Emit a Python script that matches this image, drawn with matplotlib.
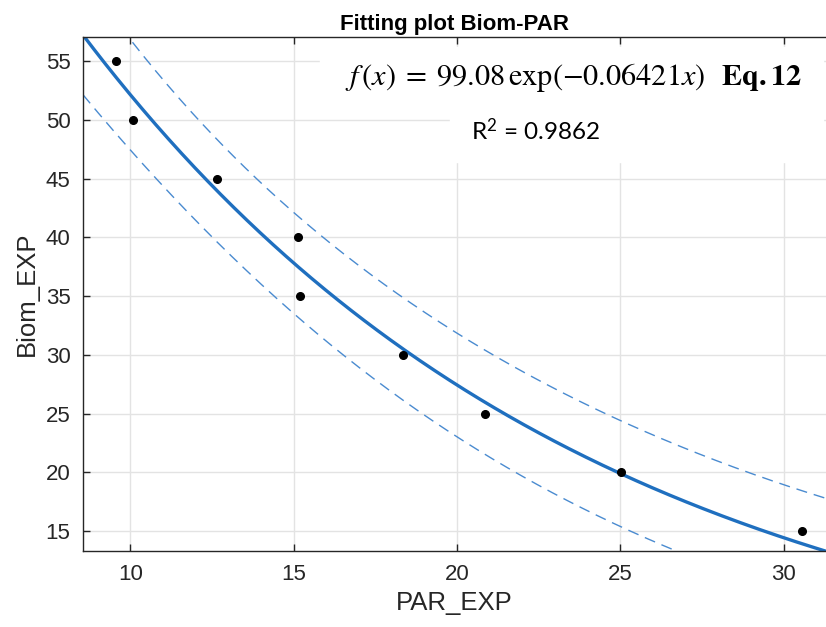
import matplotlib
matplotlib.use("Agg")
import matplotlib.pyplot as plt
import numpy as np

# data
par_exp = np.array([9.57, 10.09, 12.64, 15.12, 15.18, 18.34, 20.86, 25.03, 30.58])
biom_exp = np.array([55, 50, 45, 40, 35, 30, 25, 20, 15])

# fitted model shown on the chart
a_fit = 99.08
b_fit = 0.06421
r2_text = r"$\mathregular{R^2}$ = 0.9862"
eq_text = r"$f\,(x)\;=\;99.08\,\exp(-0.06421x)$  $\mathbf{Eq.12}$"

x_ticks = [10, 15, 20, 25, 30]
y_ticks = [15, 20, 25, 30, 35, 40, 45, 50, 55]

plt.rcParams['font.family'] = ['Liberation Sans', 'DejaVu Sans']
plt.rcParams['mathtext.fontset'] = 'stix'

xmin, xmax = 8.55, 31.3
ymin, ymax = 13.3, 57.05

xx = np.linspace(xmin, xmax, 400)
fit = a_fit * np.exp(-b_fit * xx)

# 95% prediction bounds (like MATLAB's predobs)
pred = a_fit * np.exp(-b_fit * par_exp)
n = len(par_exp)
s2 = np.sum((biom_exp - pred) ** 2) / (n - 2)
J = np.column_stack([np.exp(-b_fit * par_exp), -a_fit * par_exp * np.exp(-b_fit * par_exp)])
cov = s2 * np.linalg.inv(J.T @ J)
g = np.column_stack([np.exp(-b_fit * xx), -a_fit * xx * np.exp(-b_fit * xx)])
var_f = np.einsum('ij,jk,ik->i', g, cov, g)
t = 2.3646
half = t * np.sqrt(s2 + var_f)

fig = plt.figure(figsize=(8.26, 6.27), dpi=100)
ax = fig.add_axes([83 / 826, 1 - 551 / 627, 1 - 83 / 826, (551 - 37) / 627])

ax.grid(True, color='#e3e3e3', linewidth=1.0)
ax.set_axisbelow(True)

ax.plot(xx, fit + half, '--', color='#4a8bd0', linewidth=1.0, dashes=(8, 5))
ax.plot(xx, fit - half, '--', color='#4a8bd0', linewidth=1.0, dashes=(8, 5))
ax.plot(xx, fit, color='#1f6fbf', linewidth=2.4)
ax.plot(par_exp, biom_exp, 'o', color='black', markersize=5.5)

ax.set_xlim(xmin, xmax)
ax.set_ylim(ymin, ymax)
ax.set_xticks(x_ticks)
ax.set_yticks(y_ticks)
ax.tick_params(direction='in', length=5, width=1, colors='#262626',
               labelsize=16, top=True, pad=9)
ax.tick_params(axis='y', pad=9)
for side in ['left', 'bottom', 'top']:
    ax.spines[side].set_color('#262626')
    ax.spines[side].set_linewidth(1.0)
ax.spines['right'].set_visible(False)

ax.set_xlabel('PAR_EXP', fontsize=18.5, color='#262626', labelpad=5)
ax.set_ylabel('Biom_EXP', fontsize=18.5, color='#262626', labelpad=5)
ax.set_title('Fitting plot Biom-PAR', fontsize=16, fontweight='bold', pad=5)

# white boxes behind the equation text
fig.patches.append(plt.Rectangle((320 / 826, 1 - 108 / 627), 503 / 826, 61 / 627,
                                 transform=fig.transFigure, color='white', zorder=5))
fig.patches.append(plt.Rectangle((450 / 826, 1 - 162 / 627), 373 / 826, 60 / 627,
                                 transform=fig.transFigure, color='white', zorder=5))

fig.text(345 / 826, 1 - 78 / 627, eq_text, fontsize=21.8, va='center', ha='left', zorder=6)
fig.text(471 / 826, 1 - 131 / 627, r2_text, fontsize=17.5, family='Lato',
         va='center', ha='left', zorder=6)

fig.savefig('out.png', dpi=100)
